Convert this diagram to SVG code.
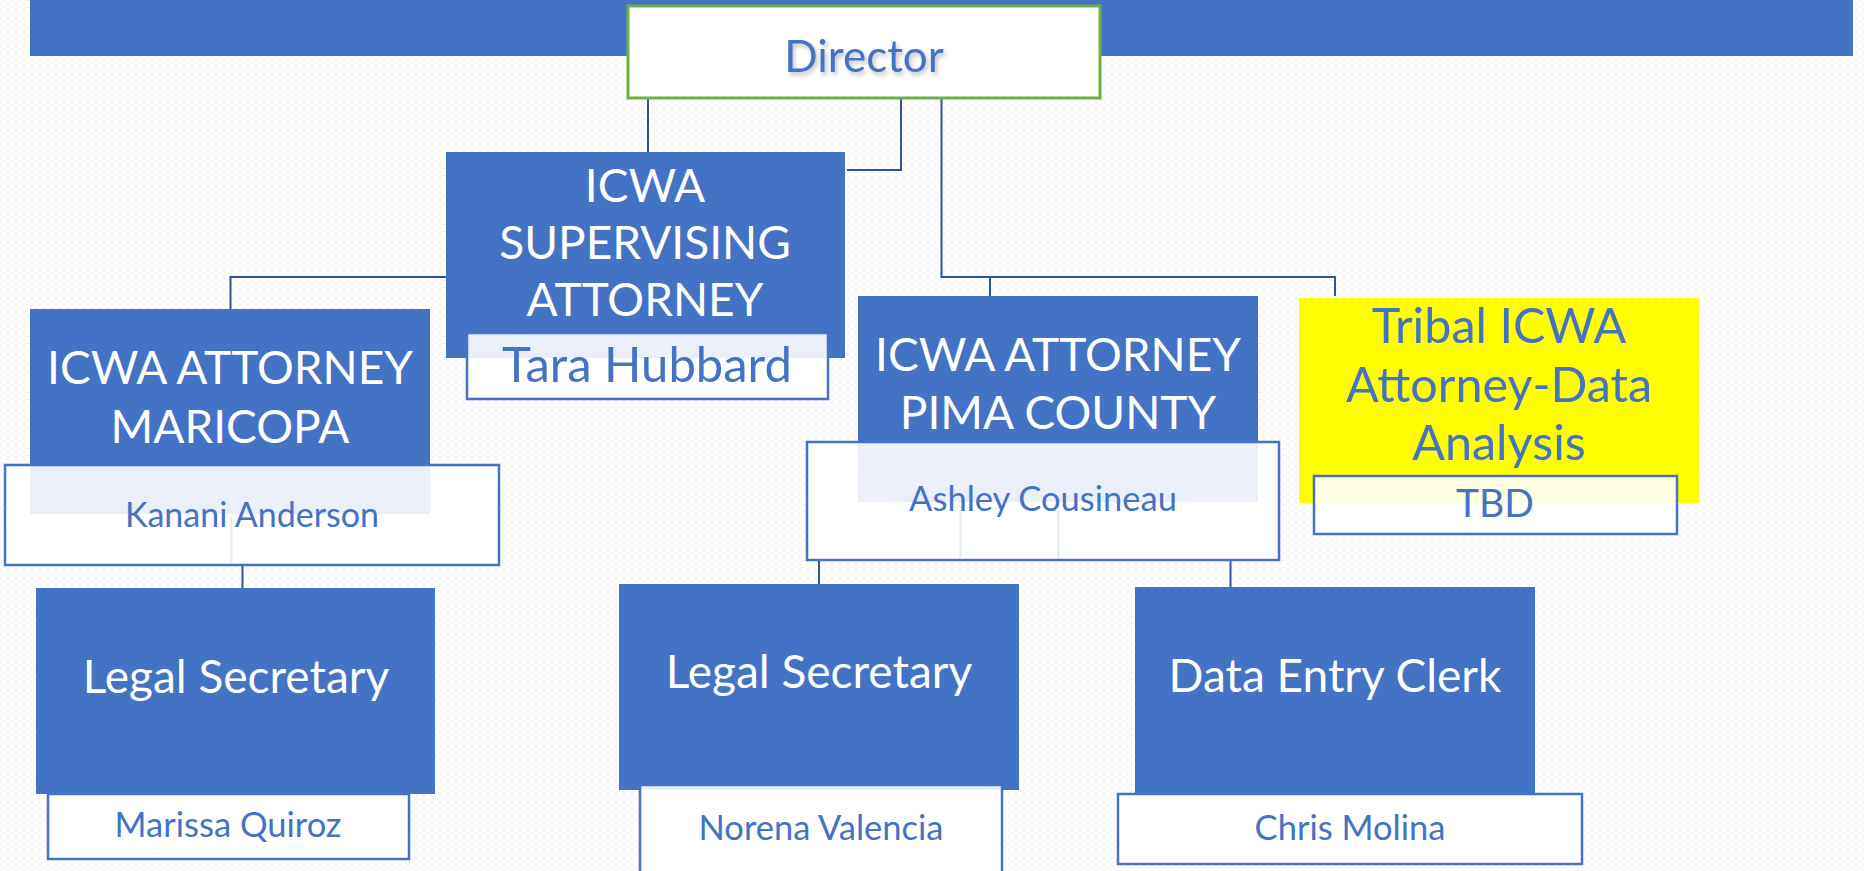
<svg xmlns="http://www.w3.org/2000/svg" width="1864" height="871" viewBox="0 0 1864 871">
<defs>
<pattern id="bg" width="8" height="7" patternUnits="userSpaceOnUse">
<rect width="8" height="7" fill="#ffffff"/>
<path d="M1 6 V3 A3 3 0 0 1 7 3 V6" fill="none" stroke="#f1f1f1" stroke-width="1"/>
</pattern>
<filter id="sh" x="-10%" y="-20%" width="130%" height="150%">
<feDropShadow dx="2" dy="3" stdDeviation="2" flood-color="#000" flood-opacity="0.25"/>
</filter>
<style>
.role{fill:#4472C4}
.name{fill:#ffffff;fill-opacity:0.89;stroke:#4472C4;stroke-width:2.5}
.wt{fill:#ffffff;font-family:Lato,"Liberation Sans",sans-serif;font-size:46px;text-anchor:middle}
.bt{fill:#4472C4;font-family:Lato,"Liberation Sans",sans-serif;text-anchor:middle}
.conn{fill:none;stroke:#2F5597;stroke-width:2}
.faint{fill:none;stroke:#E4EAF5;stroke-width:2}
</style>
</defs>
<rect width="1864" height="871" fill="url(#bg)"/>
<rect x="30" y="0" width="1823" height="56" fill="#4472C4"/>

<g id="connectors">
<path class="conn" d="M648 99 V152"/>
<path class="conn" d="M901 99 V170 H847"/>
<path class="conn" d="M941.5 99 V277 H1335 V296"/>
<path class="conn" d="M990 277 V296"/>
<path class="conn" d="M446 277 H230.5 V309"/>
<path class="conn" d="M242.5 565 V588"/>
<path class="conn" d="M819 560 V584"/>
<path class="conn" d="M1230.5 560 V587"/>
</g>

<g id="director">
<rect x="628" y="6" width="472" height="92" fill="#ffffff" stroke="#70AD47" stroke-width="3"/>
<text class="bt" x="864" y="72" font-size="44" filter="url(#sh)">Director</text>
</g>

<g id="supervising">
<rect class="role" x="446" y="152" width="399" height="206"/>
<text class="wt" x="645" y="202">ICWA</text>
<text class="wt" x="645" y="259">SUPERVISING</text>
<text class="wt" x="645" y="316">ATTORNEY</text>
</g>
<g id="tara">
<rect class="name" x="467" y="333" width="361" height="66"/>
<text class="bt" x="647" y="382" font-size="49">Tara Hubbard</text>
</g>

<g id="maricopa">
<rect class="role" x="30" y="309" width="400" height="205"/>
<text class="wt" x="230" y="384" font-size="45">ICWA ATTORNEY</text>
<text class="wt" x="230" y="443" font-size="45">MARICOPA</text>
</g>
<g id="kanani">
<rect class="name" x="5" y="465" width="494" height="100"/>
<path class="faint" d="M231.5 517 V563"/>
<text class="bt" x="252" y="527" font-size="34">Kanani Anderson</text>
</g>

<g id="pima">
<rect class="role" x="858" y="296" width="400" height="206"/>
<text class="wt" x="1058" y="371" font-size="45">ICWA ATTORNEY</text>
<text class="wt" x="1058" y="429" font-size="45">PIMA COUNTY</text>
</g>
<g id="ashley">
<rect class="name" x="807" y="442" width="472" height="118"/>
<path class="faint" d="M960.5 510 V558 M1058.5 510 V558"/>
<text class="bt" x="1043" y="511" font-size="34.5">Ashley Cousineau</text>
</g>

<g id="tribal">
<rect x="1299" y="298" width="400" height="205" fill="#FFFF00"/>
<text class="bt" x="1499" y="343" font-size="48.5">Tribal ICWA</text>
<text class="bt" x="1499" y="402" font-size="48.5">Attorney-Data</text>
<text class="bt" x="1499" y="460" font-size="48.5">Analysis</text>
</g>
<g id="tbd">
<rect class="name" x="1314" y="476" width="363" height="58"/>
<text class="bt" x="1495" y="517" font-size="39">TBD</text>
</g>

<g id="legal-secretary-1">
<rect class="role" x="36" y="588" width="399" height="206"/>
<text class="wt" x="236" y="693" font-size="49">Legal Secretary</text>
</g>
<g id="marissa">
<rect class="name" x="48" y="794" width="361" height="65"/>
<text class="bt" x="228" y="837" font-size="34.5">Marissa Quiroz</text>
</g>

<g id="legal-secretary-2">
<rect class="role" x="619" y="584" width="400" height="206"/>
<text class="wt" x="819" y="688" font-size="49">Legal Secretary</text>
</g>
<g id="norena">
<rect class="name" x="640" y="785" width="362" height="95"/>
<text class="bt" x="821" y="840" font-size="34.5">Norena Valencia</text>
</g>

<g id="data-entry-clerk">
<rect class="role" x="1135" y="587" width="400" height="207"/>
<text class="wt" x="1335" y="692" font-size="48">Data Entry Clerk</text>
</g>
<g id="chris">
<rect class="name" x="1118" y="794" width="464" height="70"/>
<text class="bt" x="1350" y="840" font-size="34.5">Chris Molina</text>
</g>
</svg>
